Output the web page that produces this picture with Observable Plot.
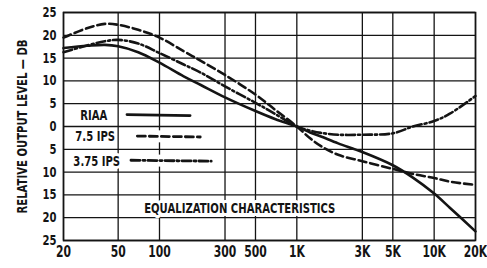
<!DOCTYPE html>
<html><head><meta charset="utf-8">
<script src="https://cdn.jsdelivr.net/npm/d3@7"></script>
<script src="https://cdn.jsdelivr.net/npm/@observablehq/plot@0.6"></script>
<style>body{margin:0;background:#fff}</style>
</head><body><div id="chart"></div>
<script>
const freqs  = [20, 30, 40, 50, 70, 100, 150, 200, 300, 500, 700, 1000, 1250, 1500, 2000, 3000, 5000, 7000, 10000, 13000, 20000];
const riaa   = [17.2, 17.7, 17.9, 17.6, 16.3, 14.0, 11.0, 9.1, 6.4, 3.4, 1.6, 0, -1.3, -2.2, -3.7, -5.6, -8.5, -11.2, -14.7, -17.8, -23.0];
const ips75  = [19.5, 21.6, 22.5, 22.3, 21.2, 19.5, 16.5, 14.4, 11.3, 7.0, 3.6, 0, -2.6, -4.3, -6.2, -7.6, -9.3, -10.4, -11.3, -12.1, -12.8];
const ips375 = [16.3, 17.8, 18.7, 19.0, 18.2, 16.1, 13.6, 11.8, 8.8, 5.2, 2.7, 0, -0.9, -1.4, -1.8, -1.8, -1.5, 0.0, 1.2, 2.8, 6.7];

const xTicks = [20, 50, 100, 300, 500, 1000, 3000, 5000, 10000, 20000];
const xTickLabels = ["20", "50", "100", "300", "500", "1K", "3K", "5K", "10K", "20K"];
const yTicks = [-25, -20, -15, -10, -5, 0, 5, 10, 15, 20, 25];
const yTickLabels = ["25", "20", "15", "10", "5", "0", "5", "10", "15", "20", "25"];
const yTitle = "RELATIVE OUTPUT LEVEL — DB";

const seriesNames = ["RIAA", "7.5 IPS", "3.75 IPS"];
const seriesValues = [riaa, ips75, ips375];
const seriesDash = [null, "8,4", "9,3,2,3"];

// legend placement in data units (label start freq, row dB, sample from/to freq)
const legendLabelFreq = [26.5, 24.4, 23.6];
const legendDb = [2.4, -2.3, -7.6];
const legendSampleFrom = [58, 69, 62];
const legendSampleTo = [167, 198, 238];
const captionText = "EQUALIZATION CHARACTERISTICS";
const captionFreq = 384;
const captionDb = -18;

const rows = [];
seriesNames.forEach((name, i) => {
  freqs.forEach((f, j) => rows.push({series: name, f, db: seriesValues[i][j]}));
});
const legendRows = [];
seriesNames.forEach((name, i) => {
  legendRows.push({series: name, f: legendSampleFrom[i], db: legendDb[i] + 0.2});
  legendRows.push({series: name, f: legendSampleTo[i], db: legendDb[i]});
});
const legendText = seriesNames.map((name, i) => ({name, f: legendLabelFreq[i], db: legendDb[i]}));

const ink = "#141414";
const SX = 0.72; // horizontal condensing of the lettering

const marks = [
  Plot.gridX(xTicks, {stroke: ink, strokeOpacity: 1, strokeWidth: 1.3}),
  Plot.gridY(yTicks, {stroke: ink, strokeOpacity: 1, strokeWidth: 1.3}),
  Plot.frame({stroke: ink, strokeWidth: 1.6}),
  Plot.text(xTicks, {x: d => d, frameAnchor: "bottom", dy: 16, text: (d, i) => xTickLabels[i], fontSize: 15, fontWeight: "bold", fill: ink}),
  Plot.axisY(yTicks, {tickSize: 0, tickPadding: 7, tickFormat: d => yTickLabels[yTicks.indexOf(d)], fontSize: 14, fontWeight: "bold", fill: ink,
    label: yTitle, labelAnchor: "center", labelArrow: "none", labelOffset: 46})
];
seriesNames.forEach((name, i) => {
  marks.push(Plot.line(rows.filter(r => r.series === name), {x: "f", y: "db", curve: "catmull-rom", stroke: ink, strokeWidth: 2.6, strokeDasharray: seriesDash[i]}));
});
// legend
seriesNames.forEach((name, i) => {
  const seg = legendRows.filter(r => r.series === name);
  if (seriesDash[i]) marks.push(Plot.line(seg, {x: "f", y: "db", stroke: "white", strokeWidth: 12}));
  marks.push(Plot.line(seg, {x: "f", y: "db", stroke: ink, strokeWidth: 2.8, strokeDasharray: seriesDash[i]}));
});
marks.push(Plot.text(legendText, {x: "f", y: "db", text: "name", textAnchor: "start", fontSize: 14, fontWeight: "bold", fill: ink, stroke: "white", strokeWidth: 6, paintOrder: "stroke"}));
marks.push(Plot.text([captionText], {x: () => captionFreq, y: () => captionDb, text: d => d, fontSize: 14, fontWeight: "bold", fill: ink, stroke: "white", strokeWidth: 6, paintOrder: "stroke"}));

const chart = Plot.plot({
  width: 487, height: 268,
  marginLeft: 63, marginRight: 12, marginTop: 12, marginBottom: 28,
  style: {fontFamily: '"DejaVu Sans", sans-serif', background: "white", color: ink},
  x: {type: "log", domain: [20, 20000], axis: null},
  y: {domain: [-25, 25]},
  marks
});
// condense lettering horizontally around each label's anchor
chart.querySelectorAll("text").forEach(t => {
  const tr = t.getAttribute("transform") || "";
  const x = t.getAttribute("x");
  if (x !== null && !isNaN(+x)) t.setAttribute("x", +x / SX);
  t.setAttribute("transform", (tr + ` scale(${SX},1)`).trim());
});
document.getElementById("chart").appendChild(chart);
</script>
</body></html>
